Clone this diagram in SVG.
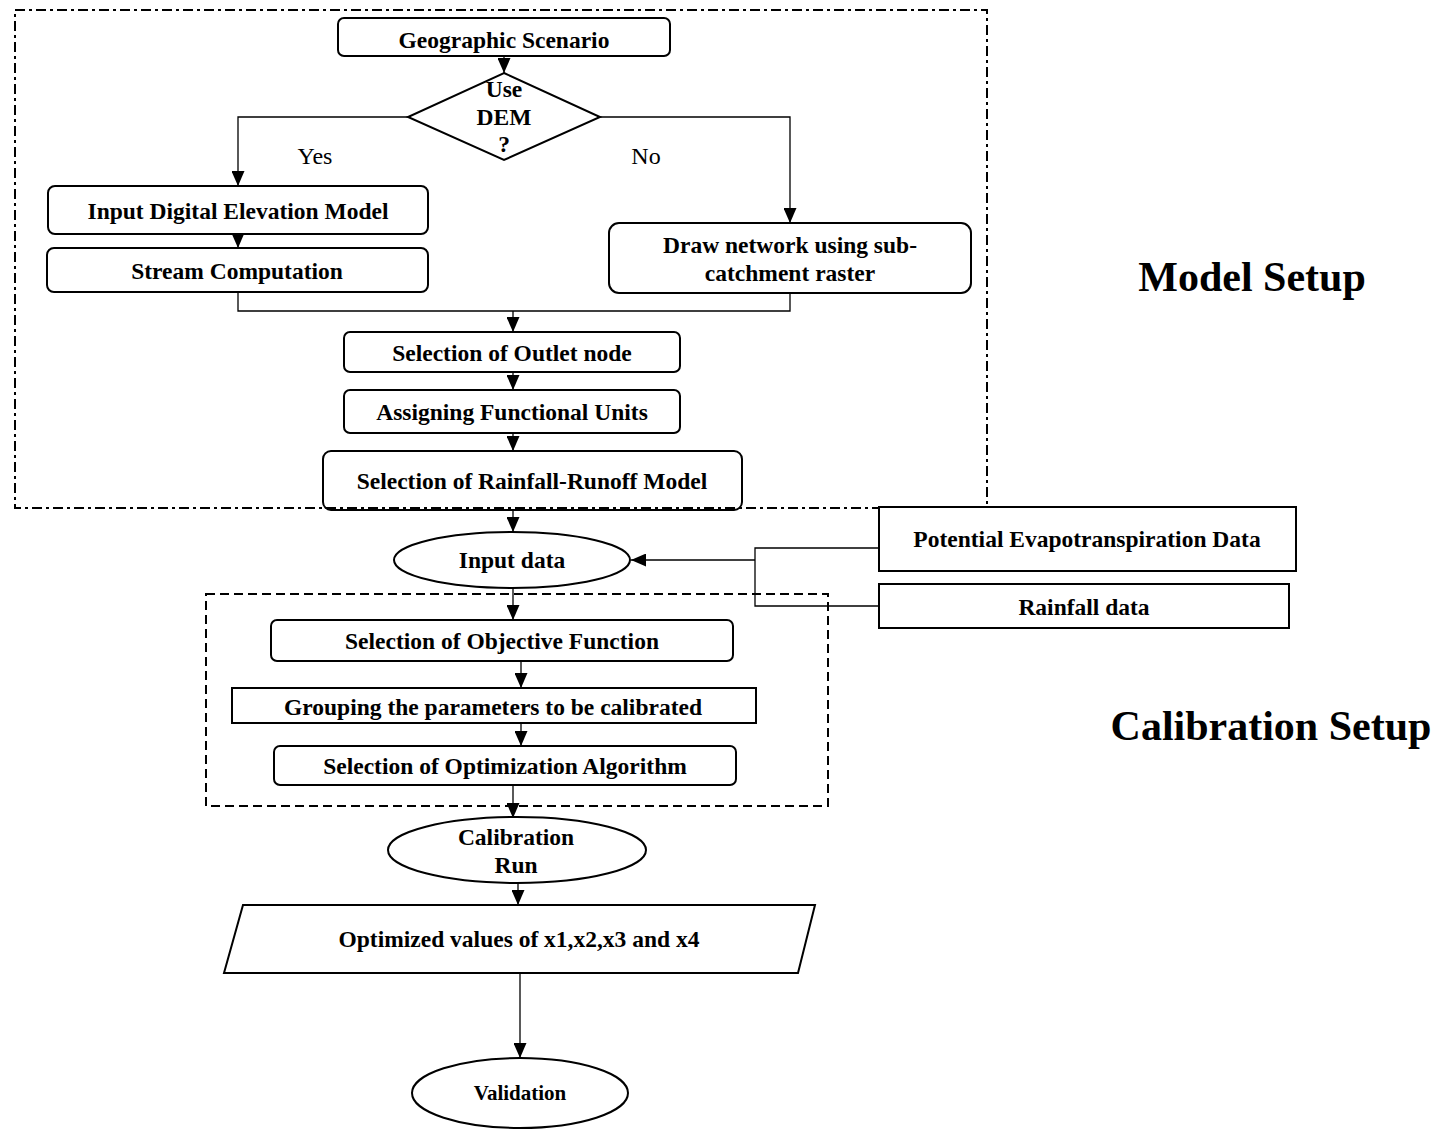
<svg xmlns="http://www.w3.org/2000/svg" width="1444" height="1129" viewBox="0 0 1444 1129">
<style>
  .box { fill: #fff; stroke: #000; stroke-width: 2; }
  .t { font-family: "Liberation Serif", "Times New Roman", serif; font-weight: bold; font-size: 23.5px; text-anchor: middle; fill: #000; }
  .r { font-family: "Liberation Serif", "Times New Roman", serif; font-size: 24px; text-anchor: middle; fill: #000; }
  .big { font-family: "Liberation Serif", "Times New Roman", serif; font-weight: bold; font-size: 42px; text-anchor: middle; fill: #000; }
  .c { fill: none; stroke: #000; stroke-width: 1.3; }
  .a { marker-end: url(#ah); }
</style>
<defs>
  <marker id="ah" markerUnits="userSpaceOnUse" markerWidth="15" markerHeight="13" refX="15" refY="6.5" orient="auto">
    <path d="M0,0 L15,6.5 L0,13 z" fill="#000"/>
  </marker>
</defs>
<rect width="1444" height="1129" fill="#fff"/>

<g id="connectors">
  <line class="c a" x1="504" y1="56" x2="504" y2="73"/>
  <polyline class="c a" points="408,117 238,117 238,186"/>
  <polyline class="c a" points="600,117 790,117 790,223"/>
  <line class="c a" x1="238" y1="234" x2="238" y2="248"/>
  <polyline class="c" points="238,292 238,311 790,311 790,293"/>
  <line class="c a" x1="513" y1="311" x2="513" y2="332"/>
  <line class="c a" x1="513" y1="372" x2="513" y2="390"/>
  <line class="c a" x1="513" y1="433" x2="513" y2="451"/>
  <line class="c a" x1="513" y1="510" x2="513" y2="532"/>
  <polyline class="c" points="879,548 755,548 755,606 879,606"/>
  <line class="c a" x1="755" y1="560" x2="631" y2="560"/>
  <line class="c a" x1="513" y1="588" x2="513" y2="620"/>
  <line class="c a" x1="521" y1="662" x2="521" y2="688"/>
  <line class="c a" x1="521" y1="724" x2="521" y2="746"/>
  <line class="c a" x1="513" y1="785" x2="513" y2="818"/>
  <line class="c a" x1="518" y1="883" x2="518" y2="905"/>
  <line class="c a" x1="520" y1="973" x2="520" y2="1058"/>
</g>

<g id="geographic-scenario">
  <rect class="box" x="338" y="18" width="332" height="38" rx="6"/>
  <text class="t" x="504" y="48">Geographic Scenario</text>
</g>
<g id="use-dem">
  <polygon class="box" points="504,73 600,117 504,160 408,117"/>
  <text class="t" x="504" y="97">Use</text>
  <text class="t" x="504" y="125">DEM</text>
  <text class="t" x="504" y="152">?</text>
</g>
<g id="yes-label"><text class="r" x="315" y="164">Yes</text></g>
<g id="no-label"><text class="r" x="646" y="164">No</text></g>
<g id="input-dem">
  <rect class="box" x="48" y="186" width="380" height="48" rx="7"/>
  <text class="t" x="238" y="219">Input Digital Elevation Model</text>
</g>
<g id="stream-computation">
  <rect class="box" x="47" y="248" width="381" height="44" rx="7"/>
  <text class="t" x="237" y="279">Stream Computation</text>
</g>
<g id="draw-network">
  <rect class="box" x="609" y="223" width="362" height="70" rx="10"/>
  <text class="t" x="790" y="253">Draw network using sub-</text>
  <text class="t" x="790" y="281">catchment raster</text>
</g>
<g id="outlet-node">
  <rect class="box" x="344" y="332" width="336" height="40" rx="6"/>
  <text class="t" x="512" y="361">Selection of Outlet node</text>
</g>
<g id="functional-units">
  <rect class="box" x="344" y="390" width="336" height="43" rx="6"/>
  <text class="t" x="512" y="420">Assigning Functional Units</text>
</g>
<g id="rainfall-runoff-model">
  <rect class="box" x="323" y="451" width="419" height="59" rx="8"/>
  <text class="t" x="532" y="489">Selection of Rainfall-Runoff Model</text>
</g>
<g id="model-setup-frame">
  <rect x="15" y="10" width="972" height="498" fill="none" stroke="#000" stroke-width="2" stroke-dasharray="10 4 3 4"/>
</g>
<g id="model-setup-label"><text class="big" x="1252" y="291">Model Setup</text></g>

<g id="input-data">
  <ellipse class="box" cx="512" cy="560" rx="118" ry="28"/>
  <text class="t" x="512" y="568">Input data</text>
</g>
<g id="pet-data">
  <rect class="box" x="879" y="507" width="417" height="64" stroke-width="2.5"/>
  <text class="t" x="1087" y="547">Potential Evapotranspiration Data</text>
</g>
<g id="rainfall-data">
  <rect class="box" x="879" y="584" width="410" height="44"/>
  <text class="t" x="1084" y="615">Rainfall data</text>
</g>

<g id="calibration-setup-frame">
  <rect x="206" y="594" width="622" height="212" fill="none" stroke="#000" stroke-width="2" stroke-dasharray="9 5"/>
</g>
<g id="objective-function">
  <rect class="box" x="271" y="620" width="462" height="41" rx="6"/>
  <text class="t" x="502" y="649">Selection of Objective Function</text>
</g>
<g id="grouping-parameters">
  <rect class="box" x="232" y="688" width="524" height="35"/>
  <text class="t" x="493" y="715">Grouping the parameters to be calibrated</text>
</g>
<g id="optimization-algorithm">
  <rect class="box" x="274" y="746" width="462" height="39" rx="6"/>
  <text class="t" x="505" y="774">Selection of Optimization Algorithm</text>
</g>
<g id="calibration-setup-label"><text class="big" x="1271" y="740">Calibration Setup</text></g>

<g id="calibration-run">
  <ellipse class="box" cx="517" cy="850" rx="129" ry="33"/>
  <text class="t" x="516" y="845">Calibration</text>
  <text class="t" x="516" y="873">Run</text>
</g>
<g id="optimized-values">
  <polygon class="box" points="243,905 815,905 798,973 224,973"/>
  <text class="t" x="519" y="947">Optimized values of x1,x2,x3 and x4</text>
</g>
<g id="validation">
  <ellipse class="box" cx="520" cy="1093" rx="108" ry="35"/>
  <text class="t" x="520" y="1100" style="font-size:21px">Validation</text>
</g>
</svg>
